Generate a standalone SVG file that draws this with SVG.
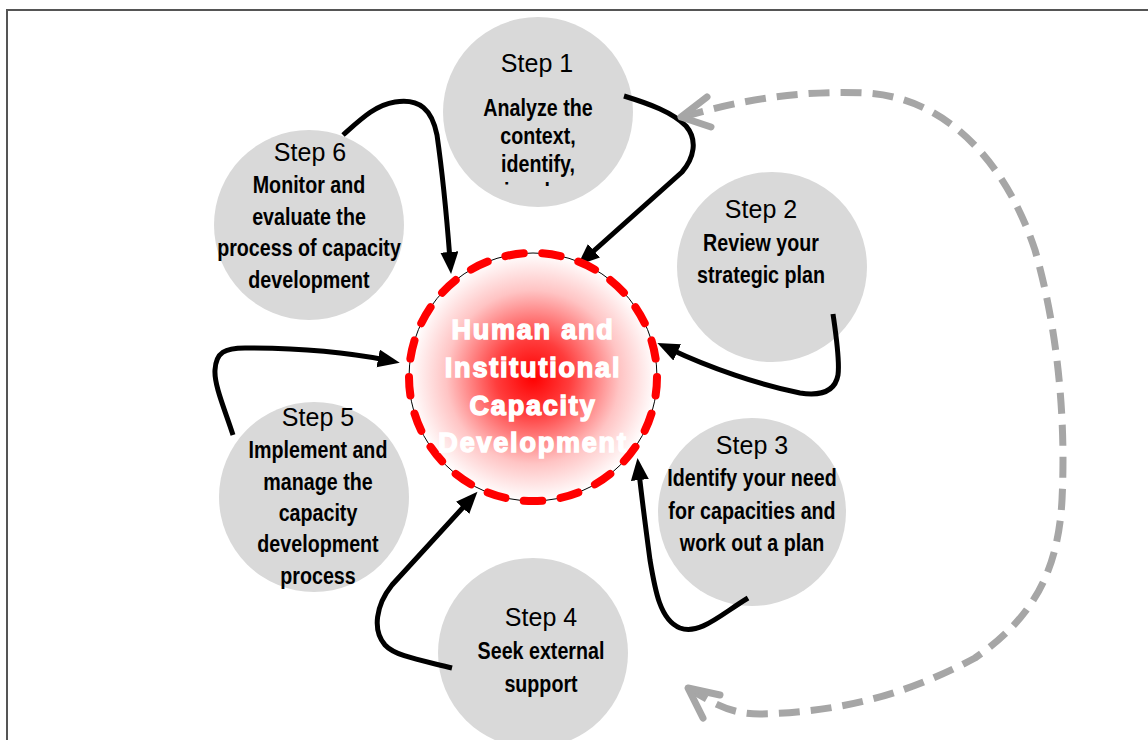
<svg xmlns="http://www.w3.org/2000/svg" width="1148" height="740" viewBox="0 0 1148 740">
<defs>
<radialGradient id="redGlow" cx="0.5" cy="0.5" r="0.5">
<stop offset="0" stop-color="#ff0000"/>
<stop offset="0.3" stop-color="#ff3d3d"/>
<stop offset="0.7" stop-color="#ffc4c4"/>
<stop offset="1" stop-color="#ffffff"/>
</radialGradient>
<marker id="ah" markerUnits="userSpaceOnUse" markerWidth="24" markerHeight="20" refX="8" refY="9" orient="auto">
<path d="M0,0 L22,9 L0,18 z" fill="#000"/>
</marker>
<clipPath id="clip1"><rect x="430" y="0" width="220" height="186"/></clipPath>
</defs>
<style>
.step{fill:#d9d9d9;stroke:none}
.lbl{font-family:"Liberation Sans",Arial,sans-serif;font-size:25px;fill:#000;text-anchor:middle}
.bt{font-family:"Liberation Sans",Arial,sans-serif;font-size:24px;font-weight:bold;fill:#000;text-anchor:middle}
.ctr{font-family:"Liberation Sans",Arial,sans-serif;font-size:27px;font-weight:bold;fill:#fff;stroke:#fff;stroke-width:1.4;letter-spacing:1.8px;text-anchor:middle}
.conn{fill:none;stroke:#000;stroke-width:5;stroke-linecap:butt}
.dash{fill:none;stroke:#a6a6a6;stroke-width:7;stroke-dasharray:21 11}
.chev{fill:none;stroke:#a6a6a6;stroke-width:7;stroke-linecap:round;stroke-linejoin:round}
</style>
<rect x="0" y="0" width="1148" height="740" fill="#fff"/>
<rect x="7" y="10" width="1200" height="800" fill="none" stroke="#555" stroke-width="2"/>

<g id="step1">
<circle class="step" cx="538" cy="112" r="95"/>
<text class="lbl" x="537" y="72">Step 1</text>
<g clip-path="url(#clip1)">
<g transform="translate(538,0) scale(0.82,1)">
<text class="bt" x="0" y="116">Analyze the</text>
<text class="bt" x="0" y="144">context,</text>
<text class="bt" x="0" y="172">identify,</text>
<text class="bt" x="0" y="200">involve</text>
</g>
</g>
</g>

<g id="step2">
<circle class="step" cx="772" cy="267" r="95"/>
<text class="lbl" x="761" y="218">Step 2</text>
<g transform="translate(761,0) scale(0.82,1)">
<text class="bt" x="0" y="251">Review your</text>
<text class="bt" x="0" y="283">strategic plan</text>
</g>
</g>

<g id="step3">
<circle class="step" cx="752" cy="512" r="94"/>
<text class="lbl" x="752" y="454">Step 3</text>
<g transform="translate(752,0) scale(0.82,1)">
<text class="bt" x="0" y="486">Identify your need</text>
<text class="bt" x="0" y="519">for capacities and</text>
<text class="bt" x="0" y="551">work out a plan</text>
</g>
</g>

<g id="step4">
<circle class="step" cx="533" cy="653" r="95"/>
<text class="lbl" x="541" y="626">Step 4</text>
<g transform="translate(541,0) scale(0.82,1)">
<text class="bt" x="0" y="659">Seek external</text>
<text class="bt" x="0" y="692">support</text>
</g>
</g>

<g id="step5">
<circle class="step" cx="314" cy="497" r="95"/>
<text class="lbl" x="318" y="426">Step 5</text>
<g transform="translate(318,0) scale(0.82,1)">
<text class="bt" x="0" y="458">Implement and</text>
<text class="bt" x="0" y="490">manage the</text>
<text class="bt" x="0" y="521">capacity</text>
<text class="bt" x="0" y="552">development</text>
<text class="bt" x="0" y="584">process</text>
</g>
</g>

<g id="step6">
<circle class="step" cx="309" cy="225" r="95"/>
<text class="lbl" x="310" y="161">Step 6</text>
<g transform="translate(309,0) scale(0.82,1)">
<text class="bt" x="0" y="193">Monitor and</text>
<text class="bt" x="0" y="225">evaluate the</text>
<text class="bt" x="0" y="256">process of capacity</text>
<text class="bt" x="0" y="288">development</text>
</g>
</g>

<g id="connectors">
<path class="conn" marker-end="url(#ah)" d="M624,96 C650,104 672,112 686,126 C698,140 694,158 682,172 L588,256"/>
<path class="conn" marker-end="url(#ah)" d="M833,314 C836,335 840,360 838,375 C835,392 820,396 800,393 C760,385 710,368 670,349"/>
<path class="conn" marker-end="url(#ah)" d="M748,598 C720,615 700,635 680,628 C660,620 655,590 650,560 C646,530 642,500 639,472"/>
<path class="conn" marker-end="url(#ah)" d="M452,668 C420,660 395,656 385,645 C372,630 376,605 392,585 L468,502"/>
<path class="conn" marker-end="url(#ah)" d="M233,435 C225,410 214,385 215,370 C216,352 225,348 245,348 C300,348 350,353 386,360"/>
<path class="conn" marker-end="url(#ah)" d="M343,135 C360,120 375,105 395,102 C420,98 432,110 437,135 C442,170 447,220 450,260"/>
<path class="dash" d="M683,117 C740,100 800,90 865,93 C945,97 1005,160 1035,250 C1058,330 1066,420 1062,500 C1058,575 1030,620 975,658 C915,690 850,712 760,714 C740,714 722,710 690,689"/>
<path class="chev" d="M707,97 L681,117 L711,127"/>
<path class="chev" d="M720,695 L688,688 L703,718"/>
</g>

<g id="center">
<circle cx="533" cy="377" r="124" fill="url(#redGlow)" stroke="#000" stroke-width="1"/>
<circle cx="533" cy="377" r="124" fill="none" stroke="#ff0000" stroke-width="8" stroke-linecap="round" pathLength="21" stroke-dasharray="0.5 0.5"/>
<text class="ctr" x="533" y="339">Human and</text>
<text class="ctr" x="533" y="377">Institutional</text>
<text class="ctr" x="533" y="415">Capacity</text>
<text class="ctr" x="533" y="452">Development</text>
</g>
</svg>
